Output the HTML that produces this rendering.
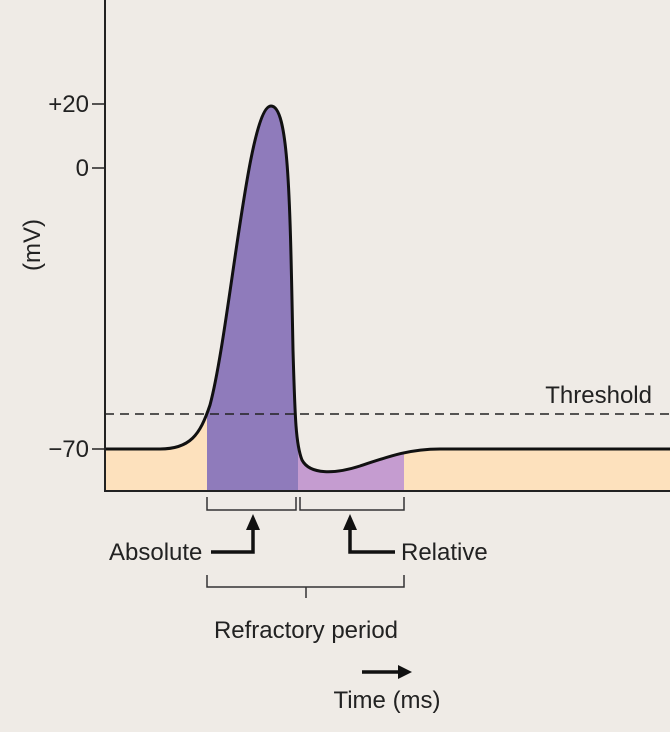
<!DOCTYPE html>
<html><head><style>
body{margin:0;background:#efebe6;}
svg{display:block;font-family:"Liberation Sans",Arial,sans-serif;}
</style></head><body>
<svg width="670" height="732" viewBox="0 0 670 732">
<rect width="670" height="732" fill="#efebe6"/>
<defs>
<clipPath id="c"><path d="M105,449 L160,449 C190,449 200,435 210,405 C230,330 248,106 271,106 C289,106 290,200 293,350 C295,420 296,445 302,460 C310,475 335,474 360,466 C390,456 410,449 440,449 L670,449 L670,491 L105,491 Z"/></clipPath>
</defs>
<g clip-path="url(#c)">
<rect x="105" y="0" width="102" height="491" fill="#fde1bd"/>
<rect x="207" y="0" width="91" height="491" fill="#8f7bbb"/>
<rect x="298" y="0" width="106" height="491" fill="#c59cd0"/>
<rect x="404" y="0" width="266" height="491" fill="#fde1bd"/>
</g>
<line x1="105" y1="414" x2="670" y2="414" stroke="#222" stroke-width="1.5" stroke-dasharray="9,6"/>
<path d="M105,449 L160,449 C190,449 200,435 210,405 C230,330 248,106 271,106 C289,106 290,200 293,350 C295,420 296,445 302,460 C310,475 335,474 360,466 C390,456 410,449 440,449 L670,449" fill="none" stroke="#111" stroke-width="3"/>
<path d="M105,0 L105,491 L670,491" fill="none" stroke="#222" stroke-width="2"/>
<g stroke="#222" stroke-width="1.5">
<line x1="92" y1="104" x2="105" y2="104"/>
<line x1="92" y1="168" x2="105" y2="168"/>
<line x1="92" y1="449" x2="105" y2="449"/>
</g>
<g font-size="24" fill="#222" text-anchor="end">
<text x="89" y="112">+20</text>
<text x="89" y="176">0</text>
<text x="89" y="457">−70</text>
</g>
<text transform="translate(40,245) rotate(-90)" font-size="24" fill="#222" text-anchor="middle">(mV)</text>
<text x="652" y="403" font-size="24" fill="#222" text-anchor="end">Threshold</text>
<g fill="none" stroke="#333" stroke-width="1.5">
<path d="M207,497 V510 H296 V497"/>
<path d="M300,497 V510 H404 V497"/>
<path d="M207,575 V587 H404 V575 M306,587 V598"/>
</g>
<g fill="none" stroke="#111" stroke-width="3.5">
<path d="M211,552 H253 V525"/>
<path d="M395,552 H350 V525"/>
<line x1="362" y1="672" x2="400" y2="672"/>
</g>
<g fill="#111">
<polygon points="253,514 246,530 260,530"/>
<polygon points="350,514 343,530 357,530"/>
<polygon points="412,672 398,665 398,679"/>
</g>
<g font-size="24" fill="#222">
<text x="109" y="560">Absolute</text>
<text x="401" y="560">Relative</text>
<text x="306" y="638" text-anchor="middle">Refractory period</text>
<text x="387" y="708" text-anchor="middle">Time (ms)</text>
</g>
</svg>
</body></html>
